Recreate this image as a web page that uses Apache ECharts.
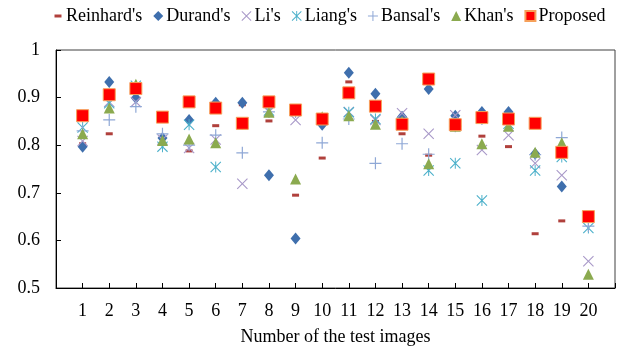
<!DOCTYPE html>
<html>
<head>
<meta charset="utf-8">
<script src="https://cdn.jsdelivr.net/npm/echarts@6/dist/echarts.min.js"></script>
<style>
  html, body { margin: 0; padding: 0; background: #fff; }
  #chart { width: 618px; height: 351px; }
</style>
</head>
<body>
<div id="chart"></div>
<script>
// Image numbers along the x axis
const imageNumbers = [1, 2, 3, 4, 5, 6, 7, 8, 9, 10, 11, 12, 13, 14, 15, 16, 17, 18, 19, 20];

// Scores per method, one value per test image (null = not plotted)
const reinhard = [0.803, 0.824, 0.925, 0.816, 0.788, 0.841, 0.885, 0.851, 0.695, 0.773, 0.933, 0.850, 0.824, 0.779, 0.840, 0.819, 0.797, 0.614, 0.641, null];
const durand   = [0.797, 0.933, 0.899, 0.815, 0.853, 0.889, 0.889, 0.737, 0.604, 0.843, 0.952, 0.908, 0.860, 0.918, 0.862, 0.870, 0.870, 0.782, 0.713, null];
const li       = [0.809, 0.891, 0.891, 0.812, 0.794, 0.812, 0.719, 0.870, 0.853, 0.855, 0.870, 0.853, 0.867, 0.824, 0.863, 0.790, 0.821, 0.762, 0.737, 0.556];
const liang    = [0.837, 0.888, 0.925, 0.797, 0.843, 0.754, 0.845, 0.873, 0.872, 0.855, 0.869, 0.855, 0.848, 0.747, 0.762, 0.684, 0.845, 0.747, 0.775, 0.626];
const bansal   = [0.830, 0.853, 0.881, 0.824, 0.800, 0.821, 0.784, 0.870, 0.870, 0.805, 0.855, 0.762, 0.803, 0.781, 0.840, 0.855, 0.850, 0.780, 0.816, 0.630];
const khan     = [0.824, 0.878, 0.928, 0.810, 0.813, 0.805, 0.845, 0.869, 0.729, 0.860, 0.862, 0.844, 0.850, 0.761, 0.840, 0.803, 0.840, 0.785, 0.805, 0.529];
const proposed = [0.862, 0.906, 0.919, 0.859, 0.891, 0.878, 0.846, 0.891, 0.874, 0.855, 0.910, 0.882, 0.844, 0.939, 0.843, 0.858, 0.855, 0.846, 0.785, 0.650];

const yTicks = [0.5, 0.6, 0.7, 0.8, 0.9, 1];

// Thin line-style marker shapes
const PLUS  = 'path://M4.5,0H5.5V4.5H10V5.5H5.5V10H4.5V5.5H0V4.5H4.5Z';
const CROSS = 'path://M0,0.7L0.7,0L5,4.3L9.3,0L10,0.7L5.7,5L10,9.3L9.3,10L5,5.7L0.7,10L0,9.3L4.3,5Z';
const STAR  = 'path://M0,0.7L0.7,0L5,4.3L9.3,0L10,0.7L5.7,5L10,9.3L9.3,10L5,5.7L0.7,10L0,9.3L4.3,5Z M4.55,0H5.45V10H4.55Z';
const DASH_ICON = 'path://M0,0M10,10M1.5,3.5H8.5V6.5H1.5Z';

const FONT = '"Liberation Serif", "Times New Roman", serif';

function toPoints(values) {
  return imageNumbers.map((n, i) => [n, values[i]]);
}

const methods = [
  { name: "Reinhard's", values: reinhard, symbol: 'rect', size: [7, 3], color: '#B0403C', icon: DASH_ICON },
  { name: "Durand's",   values: durand,   symbol: 'diamond', size: [10, 12], color: '#3F6FAD', icon: 'diamond' },
  { name: "Li's",       values: li,       symbol: CROSS, size: 11, color: '#A898C8', icon: CROSS },
  { name: "Liang's",    values: liang,    symbol: STAR, size: 11, color: '#4BB0CA', icon: STAR },
  { name: "Bansal's",   values: bansal,   symbol: PLUS, size: 12, color: '#8FA8D6', icon: PLUS },
  { name: "Khan's",     values: khan,     symbol: 'triangle', size: [11, 11], color: '#8BAA4F', icon: 'triangle' },
  { name: 'Proposed',   values: proposed, symbol: 'rect', size: 12, color: '#FF0000', icon: 'rect',
    border: '#F6A05A', borderWidth: 1 }
];

const chart = echarts.init(document.getElementById('chart'), null, { renderer: 'canvas' });

chart.setOption({
  animation: false,
  backgroundColor: '#ffffff',
  textStyle: { fontFamily: FONT, color: '#000' },
  legend: {
    top: 7,
    left: 53,
    width: 565,
    padding: 0,
    itemWidth: 10,
    itemHeight: 10,
    itemGap: 11,
    textStyle: { fontFamily: FONT, fontSize: 18, color: '#000', padding: [0, 0, 0, -2] },
    data: methods.map(m => ({ name: m.name, icon: m.icon }))
  },
  grid: {
    left: 56, right: 1, top: 50, bottom: 57,
    show: true, borderColor: '#404040', borderWidth: 1,
    containLabel: false
  },
  xAxis: {
    type: 'value',
    min: 0, max: 21, interval: 1,
    name: 'Number of the test images',
    nameLocation: 'middle',
    nameGap: 40,
    nameTextStyle: { fontFamily: FONT, fontSize: 18, color: '#000' },
    axisLine: { show: true, lineStyle: { color: '#000', width: 1 } },
    axisTick: { show: true, inside: true, length: 5, lineStyle: { color: '#000' } },
    axisLabel: {
      fontFamily: FONT, fontSize: 18, color: '#000', margin: 14,
      formatter: v => (imageNumbers.indexOf(v) >= 0 ? String(v) : '')
    },
    splitLine: { show: false }
  },
  yAxis: {
    type: 'value',
    min: 0.5, max: 1, interval: 0.1,
    axisLine: { show: true, lineStyle: { color: '#000', width: 1 } },
    axisTick: { show: true, inside: true, length: 5, lineStyle: { color: '#000' } },
    axisLabel: {
      fontFamily: FONT, fontSize: 18, color: '#000', margin: 16,
      formatter: v => {
        const t = yTicks.find(y => Math.abs(y - v) < 1e-6);
        return t === undefined ? '' : (t === 1 ? '1' : t.toFixed(1));
      }
    },
    splitLine: { show: false }
  },
  series: methods.map(m => ({
    name: m.name,
    type: 'scatter',
    symbol: m.symbol,
    symbolSize: m.size,
    data: toPoints(m.values),
    itemStyle: {
      color: m.color,
      opacity: 1,
      borderColor: m.border || m.color,
      borderWidth: m.borderWidth || 0
    },
    emphasis: { disabled: true }
  }))
});
</script>
</body>
</html>
